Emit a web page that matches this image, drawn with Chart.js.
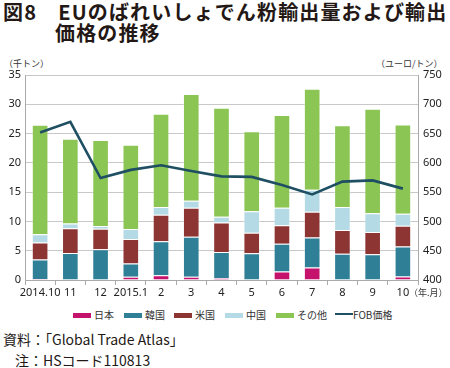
<!DOCTYPE html>
<html><head><meta charset="utf-8">
<script src="https://cdn.jsdelivr.net/npm/chart.js@4"></script>
<style>
html,body{margin:0;padding:0;background:#fff;width:450px;height:368px;overflow:hidden;font-family:"Noto Sans CJK JP","Noto Sans",sans-serif;color:#231815}
.abs{position:absolute;white-space:nowrap}
#title{left:3px;top:1px;font-size:20px;font-weight:bold;line-height:21px;letter-spacing:1.15px}
#chartbox{position:absolute;left:0;top:55px;width:450px;height:245px}
.small{font-size:9px;color:#333}
.leg{position:absolute;top:309px;font-size:10px;line-height:12px;color:#333}
.sw{display:inline-block;width:18px;height:5px;vertical-align:middle;margin-right:3px;position:relative;top:-1px}
</style></head><body>
<div id="title" class="abs">図8　EUのばれいしょでん粉輸出量および輸出<br><span style="padding-left:52px">価格の推移</span></div>
<div class="abs small" style="left:4px;top:57px">（千トン）</div>
<div class="abs small" style="left:376px;top:57px">（ユーロ/トン）</div>
<div id="chartbox"><canvas id="c"></canvas></div>
<div class="abs small" style="left:409px;top:286px">（年.月）</div>
<div id="legend"></div>
<div class="abs" style="left:3px;top:329px;font-size:14px;line-height:20px">資料：「Global Trade Atlas」</div>
<div class="abs" style="left:15px;top:350px;font-size:14px;line-height:20px">注：HSコード110813</div>
<script>
const categories = ["2014.10","11","12","2015.1","2","3","4","5","6","7","8","9","10"];
const japan = [0.15,0,0,0.55,0.8,0.55,0.3,0,1.45,2.15,0,0,0.6];
const korea = [3.35,4.6,5.25,2.25,5.8,6.85,4.5,4.55,4.75,5.1,4.5,4.4,5.1];
const usa   = [2.9,4.25,3.5,4.2,4.55,4.95,5.0,3.5,3.15,4.4,4.05,3.8,3.55];
const china = [1.4,0.8,0.45,1.7,1.3,1.2,1.0,3.7,3.0,3.75,3.9,3.2,2.05];
const other = [18.7,14.45,14.7,14.4,15.95,18.2,18.6,13.65,15.8,17.25,13.95,17.85,15.25];
const fob   = [652,670,574,588,596,586,577,576,562,546,568,570,556];
const seriesNames = ["日本","韓国","米国","中国","その他","FOB価格"];
const colors = ["#c5126c","#2f7f96","#8c3533","#b4dbe5","#8bc553","#1e4f63"];

const barData=[japan,korea,usa,china,other];
const datasets = barData.map((d,i)=>({
  type:'bar',label:seriesNames[i],data:d,backgroundColor:colors[i],
  borderColor:'rgba(255,255,255,0.35)',borderWidth:{left:1,right:1,top:1,bottom:0},
  stack:'s',yAxisID:'y',barPercentage:0.55,categoryPercentage:1,order:2
}));
datasets.push({type:'line',label:seriesNames[5],data:fob,borderColor:colors[5],backgroundColor:colors[5],
  borderWidth:2.6,pointRadius:0,tension:0,yAxisID:'y1',order:1});

const tickFont={family:'"Noto Sans", "Noto Sans CJK JP", sans-serif',size:11};
new Chart(document.getElementById('c'),{
  data:{labels:categories,datasets},
  options:{
    responsive:true,maintainAspectRatio:false,animation:false,
    layout:{padding:{top:20,left:0,right:0,bottom:0}},
    plugins:{legend:{display:false},tooltip:{enabled:false}},
    scales:{
      x:{stacked:true,offset:true,
        grid:{display:true,offset:true,drawOnChartArea:false,drawTicks:true,tickLength:5,color:'#aaa'},
        border:{display:true,color:'#aaa'},
        ticks:{color:'#222',font:tickFont,maxRotation:0,autoSkip:false,padding:1},
        afterFit:s=>{s.height=20;}},
      y:{stacked:true,min:0,max:35,position:'left',
        ticks:{stepSize:5,color:'#222',font:tickFont,padding:4},
        grid:{color:'#c8c8c8',drawTicks:false,lineWidth:1},
        border:{display:true,color:'#aaa'},
        afterFit:s=>{s.width=25;}},
      y1:{min:400,max:750,position:'right',
        ticks:{stepSize:50,color:'#222',font:tickFont,padding:5},
        grid:{drawOnChartArea:false,drawTicks:false},
        border:{display:true,color:'#aaa'},
        afterFit:s=>{s.width=32;}}
    }
  }
});

// legend
const legX=[73,124,174,225,276,335];
const lg=document.getElementById('legend');
seriesNames.forEach((n,i)=>{
  const d=document.createElement('div');d.className='leg';d.style.left=legX[i]+'px';
  const sw=document.createElement('span');sw.className='sw';sw.style.background=colors[i];
  if(i===5){sw.style.height='2px';sw.style.top='-2px';sw.style.marginRight='0';}
  d.appendChild(sw);d.appendChild(document.createTextNode(n));lg.appendChild(d);
});
</script>
</body></html>
